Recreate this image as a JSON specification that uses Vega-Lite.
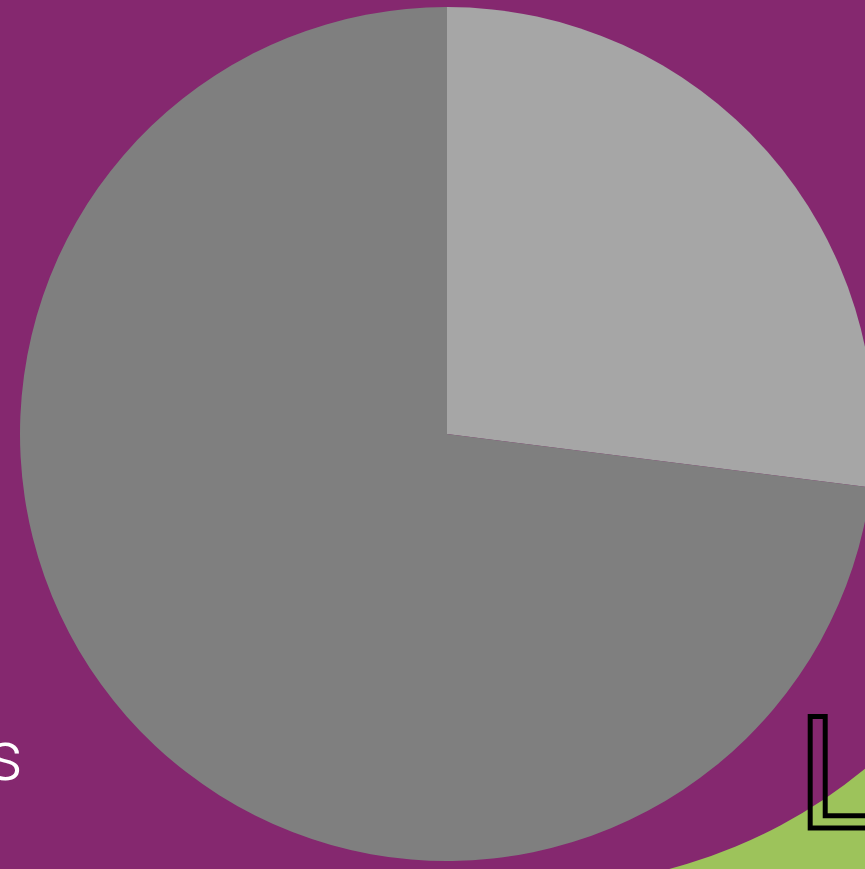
{
  "$schema": "https://vega.github.io/schema/vega-lite/v6.json",
  "width": 865,
  "height": 869,
  "padding": 0,
  "autosize": "none",
  "background": "#85286f",
  "view": {"stroke": null},
  "resolve": {"scale": {"theta": "independent", "color": "independent"}},
  "layer": [
    {
      "data": {"values": [{"shape": "green ring"}]},
      "mark": {"type": "arc", "innerRadius": 515, "outerRadius": 1200, "theta": 1.5708, "theta2": 3.1416, "color": "#9dc35b"},
      "encoding": {
        "x": {"datum": 538, "type": "quantitative", "scale": {"domain": [0, 865], "nice": false, "zero": false}, "axis": null},
        "y": {"datum": 371, "type": "quantitative", "scale": {"domain": [0, 869], "nice": false, "zero": false, "reverse": true}, "axis": null}
      }
    },
    {
      "data": {"values": [
        {"cat": "A", "v": 27, "o": 1},
        {"cat": "B", "v": 73, "o": 2}
      ]},
      "mark": {"type": "arc", "outerRadius": 427},
      "encoding": {
        "x": {"datum": 447, "type": "quantitative"},
        "y": {"datum": 434, "type": "quantitative"},
        "theta": {"field": "v", "type": "quantitative", "stack": true},
        "order": {"field": "o", "type": "quantitative"},
        "color": {"field": "cat", "type": "nominal", "scale": {"domain": ["A", "B"], "range": ["#a6a6a6", "#7f7f7f"]}, "legend": null}
      }
    },
    {
      "data": {"values": [{"label": "s"}]},
      "mark": {"type": "text", "font": "Roboto", "fontWeight": 300, "fontSize": 70, "color": "#ffffff", "align": "right", "baseline": "alphabetic"},
      "encoding": {
        "x": {"datum": 23, "type": "quantitative"},
        "y": {"datum": 780, "type": "quantitative"},
        "text": {"field": "label"}
      }
    },
    {
      "data": {"values": [{"label": "L"}]},
      "mark": {"type": "text", "font": "Liberation Sans", "fontSize": 161, "fill": "transparent", "stroke": "#000000", "strokeWidth": 5, "align": "left", "baseline": "alphabetic"},
      "encoding": {
        "x": {"datum": 797, "type": "quantitative"},
        "y": {"datum": 828, "type": "quantitative"},
        "text": {"field": "label"}
      }
    }
  ]
}
